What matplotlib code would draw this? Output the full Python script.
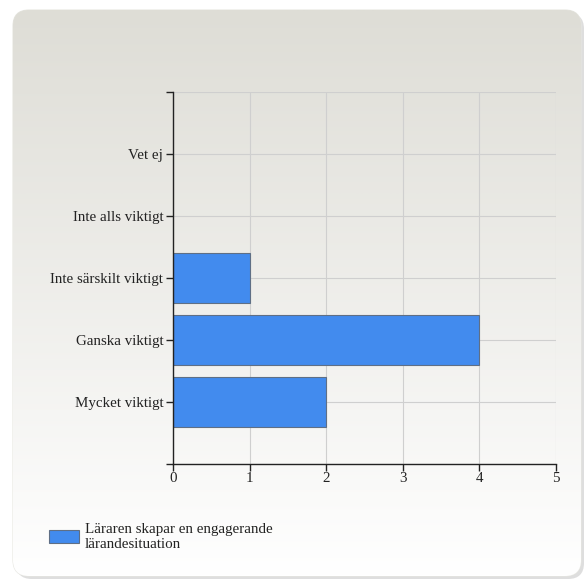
import matplotlib
matplotlib.use("Agg")
import matplotlib.pyplot as plt
import numpy as np
from matplotlib.patches import FancyBboxPatch, Rectangle

categories = ["Mycket viktigt", "Ganska viktigt", "Inte särskilt viktigt", "Inte alls viktigt", "Vet ej"]
values = [2, 4, 1, 0, 0]
series_name = "Läraren skapar en engagerande\nlärandesituation"
x_ticks = [0, 1, 2, 3, 4, 5]

plt.rcParams['font.family'] = ['Liberation Serif', 'DejaVu Serif']

W, H = 587, 580
fig = plt.figure(figsize=(W/100, H/100), dpi=100)
fig.patch.set_facecolor("white")

# background panel with gradient
bg = fig.add_axes([0, 0, 1, 1])
bg.set_xlim(0, W); bg.set_ylim(H, 0); bg.axis("off")
shadow = FancyBboxPatch((16, 13), 568, 566, boxstyle="round,pad=0,rounding_size=16",
                        facecolor="#c8c8c8", edgecolor="none", alpha=0.6)
bg.add_patch(shadow)
panel = FancyBboxPatch((13, 10), 568, 566, boxstyle="round,pad=0,rounding_size=16",
                       facecolor="none", edgecolor="#e6e6e0", lw=0.8)
bg.add_patch(panel)
grad = np.linspace(0, 1, 256).reshape(-1, 1)
top = np.array([0xDE, 0xDD, 0xD6]) / 255
bot = np.array([1.0, 1.0, 1.0])
img = top[None, None, :] * (1 - grad[..., None]) + bot[None, None, :] * grad[..., None]
im = bg.imshow(img, extent=[13, 581, 576, 10], aspect="auto", zorder=1)
im.set_clip_path(panel)

ax = fig.add_axes([173/W, 1 - 464/H, (556-173)/W, (464-92)/H])
ax.set_facecolor("none")
ypos = np.arange(1, len(categories) + 1)
lws = [0.8 if v > 0 else 0 for v in values]
ax.barh(ypos, values, height=0.8, color="#428BEE", edgecolor="#5F6F85", linewidth=lws, zorder=3)
ax.set_xlim(0, 5)
ax.set_ylim(0, 6)
ax.set_xticks(x_ticks)
ax.set_yticks([0] + list(ypos) + [6])
ax.set_yticklabels([""] + categories + [""])
ax.grid(True, color="#cfcfcf", linewidth=0.8, zorder=0)
for s in ["top", "right"]:
    ax.spines[s].set_visible(False)
for s in ["left", "bottom"]:
    ax.spines[s].set_color("#222222")
    ax.spines[s].set_linewidth(1.0)
    ax.spines[s].set_zorder(4)
ax.tick_params(axis="both", direction="out", length=5, width=1, color="#222222",
               labelsize=10.8, labelcolor="#222222", pad=1)
ax.tick_params(axis="y", pad=2)

# legend
bg.add_patch(Rectangle((49, 530), 30, 13, facecolor="#428BEE", edgecolor="#5F6F85", lw=0.8, zorder=3))
bg.text(85, 537, series_name, fontsize=10.8, va="center", ha="left", color="#222222",
        linespacing=1.15, zorder=3)

fig.savefig("out.png", dpi=100)
